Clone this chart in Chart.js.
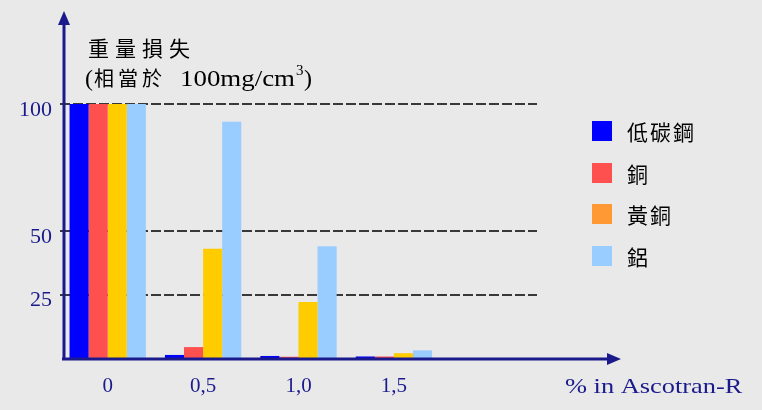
<!DOCTYPE html>
<html>
<head>
<meta charset="utf-8">
<script src="https://cdn.jsdelivr.net/npm/chart.js@4"></script>
<style>
  html, body { margin: 0; padding: 0; background: #e9e9e9; }
  #wrap { width: 762px; height: 410px; }
</style>
</head>
<body>
<div id="wrap"><canvas id="chart" width="762" height="410"></canvas></div>
<script>
// data
const categories = ["0", "0,5", "1,0", "1,5", ""];
const lowCarbonSteel = [100, 1.2, 0.8, 0.6, null];
const copper = [100, 4.3, 0.5, 0.6, null];
const brass = [100, 43, 22, 1.9, null];
const aluminium = [100, 93, 44, 3, null];
const seriesNames = ["低碳鋼", "銅", "黃銅", "鋁"];
const barColors = ["#0000ff", "#ff5050", "#ffcc00", "#99ccff"];
const legendColors = ["#0000ff", "#ff5050", "#ff9933", "#99ccff"];
const yTicks = [25, 50, 100];

const navy = "#1a1a8c";
const serif = "'Liberation Serif', 'DejaVu Serif', serif";
const cjk = "'Noto Sans CJK TC', sans-serif";

const decorations = {
  id: "decorations",
  beforeDraw(chart) {
    const c = chart.ctx;
    c.save();
    c.fillStyle = "#e9e9e9";
    c.fillRect(0, 0, chart.width, chart.height);
    c.restore();
  },
  afterDraw(chart) {
    const c = chart.ctx;
    const area = chart.chartArea;
    const ax = area.left + 4;
    const ay = area.bottom + 1;
    c.save();

    // axes with arrows
    c.strokeStyle = navy;
    c.fillStyle = navy;
    c.lineWidth = 3;
    c.beginPath();
    c.moveTo(ax, ay);
    c.lineTo(ax, 22);
    c.moveTo(ax - 2, ay);
    c.lineTo(610, ay);
    c.stroke();
    c.beginPath();
    c.moveTo(ax, 11);
    c.lineTo(ax - 6, 25);
    c.lineTo(ax + 6, 25);
    c.closePath();
    c.fill();
    c.beginPath();
    c.moveTo(621, ay);
    c.lineTo(607, ay - 6);
    c.lineTo(607, ay + 6);
    c.closePath();
    c.fill();

    // y title
    c.fillStyle = "#000";
    c.textBaseline = "alphabetic";
    c.textAlign = "left";
    c.font = "21px " + cjk;
    c.letterSpacing = "6px";
    c.fillText("重量損失", 88, 56);
    c.letterSpacing = "0px";
    c.font = "24px " + serif;
    c.fillText("(", 85, 86);
    c.font = "20px " + cjk;
    c.letterSpacing = "4px";
    c.fillText("相當於", 94, 86);
    c.letterSpacing = "0px";
    c.save();
    c.translate(180, 86);
    c.scale(1.12, 1);
    c.font = "24px " + serif;
    c.fillText("100mg/cm", 0, 0);
    c.restore();
    c.font = "15px " + serif;
    c.fillText("3", 296, 75);
    c.font = "24px " + serif;
    c.fillText(")", 304, 86);

    // x title
    c.fillStyle = navy;
    c.save();
    c.translate(565, 393);
    c.scale(1.2, 1);
    c.font = "22px " + serif;
    c.fillText("% in Ascotran-R", 0, 0);
    c.restore();

    // legend
    const rows = [131, 173, 214, 256];
    c.textBaseline = "middle";
    seriesNames.forEach((name, i) => {
      c.fillStyle = legendColors[i];
      c.fillRect(592, rows[i] - 10, 20, 20);
      c.fillStyle = "#000";
      c.font = "21px " + cjk;
      c.letterSpacing = "2px";
      c.fillText(name, 627, rows[i] + 1);
      c.letterSpacing = "0px";
    });

    c.restore();
  }
};

const datasets = [lowCarbonSteel, copper, brass, aluminium].map((vals, i) => ({
  label: seriesNames[i],
  data: vals,
  backgroundColor: barColors[i],
  borderWidth: 0,
  barPercentage: 1.0,
  categoryPercentage: 0.8
}));

new Chart(document.getElementById("chart"), {
  type: "bar",
  data: { labels: categories, datasets },
  options: {
    responsive: false,
    animation: false,
    events: [],
    layout: { padding: { left: 10, right: 225, top: 104, bottom: 0 } },
    plugins: {
      legend: { display: false },
      tooltip: { enabled: false }
    },
    scales: {
      x: {
        grid: { display: false },
        border: { display: false },
        ticks: {
          color: navy,
          font: { family: serif, size: 21 },
          padding: 8
        },
        afterFit(axis) { axis.height = 52; }
      },
      y: {
        min: 0,
        max: 100,
        z: 1,
        afterBuildTicks(axis) { axis.ticks = yTicks.map(v => ({ value: v })); },
        grid: { color: "#383838", lineWidth: 2, drawTicks: false },
        border: { display: false, dash: [10, 3] },
        ticks: {
          color: navy,
          font: { family: serif, size: 22 },
          padding: 8,
          labelOffset: 6
        },
        afterFit(axis) { axis.width = 50; }
      }
    }
  },
  plugins: [decorations]
});
</script>
</body>
</html>
